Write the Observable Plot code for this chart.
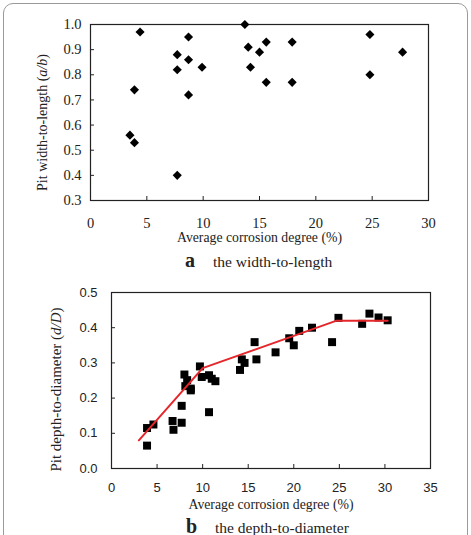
<!DOCTYPE html>
<html>
<head>
<meta charset="utf-8">
<script src="https://cdn.jsdelivr.net/npm/d3@7"></script>
<script src="https://cdn.jsdelivr.net/npm/@observablehq/plot@0.6"></script>
<style>
  html, body { margin: 0; padding: 0; background: #fff; overflow: hidden; }
  #fig { position: relative; width: 471px; height: 535px; overflow: hidden; background: #fff; }
  #border { position: absolute; left: 3px; top: 3px; width: 465px; height: 620px;
            border: 1px solid #9a9a9a; border-radius: 10px; box-sizing: border-box; }
  .panel { position: absolute; left: 0; }
  .cap { position: absolute; font-family: "Liberation Serif", serif; color: #222;
         white-space: nowrap; line-height: 1; }
  .cap.letter { font-size: 20px; font-weight: bold; }
  .cap.desc { font-size: 15.5px; }
</style>
</head>
<body>
<div id="fig">
  <div id="border"></div>
  <div class="panel" id="panelA" style="top:0px"></div>
  <span class="cap letter" style="left:185px; top:250px">a</span>
  <span class="cap desc" style="left:213px; top:254px">the width-to-length</span>
  <div class="panel" id="panelB" style="top:270px"></div>
  <span class="cap letter" style="left:186px; top:516px">b</span>
  <span class="cap desc" style="left:215px; top:520px">the depth-to-diameter</span>
</div>
<script>
// Panel a: pit width-to-length ratio vs. average corrosion degree
const corrosionA = [4.4, 3.9, 3.5, 3.9, 7.7, 7.7, 7.7, 8.7, 8.7, 8.7, 9.9,
                    13.7, 14.0, 14.2, 15.0, 15.6, 15.6, 17.9, 17.9, 24.8, 24.8, 27.7];
const widthToLength = [0.97, 0.74, 0.56, 0.53, 0.88, 0.82, 0.40, 0.95, 0.86, 0.72, 0.83,
                       1.00, 0.91, 0.83, 0.89, 0.93, 0.77, 0.93, 0.77, 0.96, 0.80, 0.89];
const xTicksA = [0, 5, 10, 15, 20, 25, 30];
const yTicksA = [0.3, 0.4, 0.5, 0.6, 0.7, 0.8, 0.9, 1.0];

// Panel b: pit depth-to-diameter ratio vs. average corrosion degree
const corrosionB = [3.9, 3.9, 4.6, 6.7, 6.8, 7.7, 7.7, 8.0, 8.3, 8.1, 8.7, 8.7,
                    9.7, 9.9, 10.7, 11.0, 11.4, 10.7, 14.1, 14.3, 14.6, 15.7, 15.9,
                    18.0, 19.5, 20.0, 20.6, 22.0, 24.2, 24.9, 27.5, 28.3, 29.3, 30.3];
const depthToDiameter = [0.115, 0.065, 0.125, 0.135, 0.11, 0.178, 0.13, 0.267, 0.251, 0.234, 0.227, 0.222,
                         0.29, 0.26, 0.265, 0.255, 0.248, 0.16, 0.28, 0.31, 0.30, 0.359, 0.31,
                         0.33, 0.37, 0.35, 0.391, 0.40, 0.359, 0.428, 0.411, 0.44, 0.429, 0.421];
// Piecewise linear trend
const trendX = [3.0, 10.0, 24.7, 30.3];
const trendY = [0.08, 0.285, 0.42, 0.42];
const xTicksB = [0, 5, 10, 15, 20, 25, 30, 35];
const yTicksB = [0.0, 0.1, 0.2, 0.3, 0.4, 0.5];

const xTitle = "Average corrosion degree (%)";
const yTitleA = ["Pit width-to-length (", "a/b", ")"];
const yTitleB = ["Pit depth-to-diameter (", "d/D", ")"];

const serif = "'Liberation Serif', 'Times New Roman', serif";
const sans = "'Liberation Sans', Arial, sans-serif";
const ink = "#222";

// Set a rotated axis title with an italic part
function styleTitle(svg, parts) {
  const full = parts.join("");
  d3.select(svg).selectAll("text").filter(function () { return this.textContent === full; })
    .each(function () {
      const t = d3.select(this);
      t.text("");
      parts.forEach((p, i) => {
        const s = t.append("tspan").text(p);
        if (i === 1) s.attr("font-style", "italic");
      });
    });
}

// ---- panel a ----
{
  const W = 471, H = 250, mt = 24, mb = 50, ml = 90, mr = 43;
  const pw = W - ml - mr, ph = H - mt - mb;
  const dataA = corrosionA.map((x, i) => ({x, y: widthToLength[i]}));
  const chart = Plot.plot({
    width: W, height: H,
    marginTop: mt, marginBottom: mb, marginLeft: ml, marginRight: mr,
    style: `font-family: ${serif}; font-size: 14px; color: ${ink}; background: transparent; overflow: visible;`,
    x: {domain: [0, 30]},
    y: {domain: [0.3, 1.0]},
    marks: [
      Plot.axisX({ticks: xTicksA, tickSize: 0, tickPadding: 17, tickFormat: d3.format("d"), label: null,
                  fontFamily: serif, fontSize: 14.5}),
      Plot.axisY({ticks: yTicksA, tickSize: 0, tickPadding: 9, tickFormat: d3.format(".1f"), label: null,
                  fontFamily: serif, fontSize: 14.5}),
      Plot.tickX(xTicksA, {x: d => d, insetTop: ph - 4, stroke: ink, strokeWidth: 1}),
      Plot.tickY(yTicksA, {y: d => d, insetRight: pw - 4, stroke: ink, strokeWidth: 1}),
      Plot.frame({stroke: ink, strokeWidth: 1.2}),
      Plot.dot(dataA, {x: "x", y: "y", symbol: "diamond2", r: 4.1, fill: "#000", stroke: "none"}),
      Plot.text([xTitle], {frameAnchor: "bottom", dy: 41, text: d => d, fontFamily: serif, fontSize: 13.75, fill: ink}),
      Plot.text([yTitleA.join("")], {frameAnchor: "left", textAnchor: "middle", rotate: -90, dx: -48, dy: 10,
                                     text: d => d, fontFamily: serif, fontSize: 14, fill: ink})
    ]
  });
  styleTitle(chart, yTitleA);
  document.getElementById("panelA").append(chart);
}

// ---- panel b ----
{
  const W = 471, H = 250, mt = 22, mb = 52, ml = 111, mr = 41;
  const pw = W - ml - mr, ph = H - mt - mb;
  const dataB = corrosionB.map((x, i) => ({x, y: depthToDiameter[i]}));
  const trend = trendX.map((x, i) => ({x, y: trendY[i]}));
  const chart = Plot.plot({
    width: W, height: H,
    marginTop: mt, marginBottom: mb, marginLeft: ml, marginRight: mr,
    style: `font-family: ${sans}; font-size: 13px; color: ${ink}; background: transparent; overflow: visible;`,
    x: {domain: [0, 35]},
    y: {domain: [0, 0.5]},
    marks: [
      Plot.axisX({ticks: xTicksB, tickSize: 0, tickPadding: 14, tickFormat: d3.format("d"), label: null,
                  fontFamily: sans, fontSize: 13}),
      Plot.axisY({ticks: yTicksB, tickSize: 0, tickPadding: 14, tickFormat: d3.format(".1f"), label: null,
                  fontFamily: sans, fontSize: 13}),
      Plot.tickX(xTicksB, {x: d => d, insetTop: ph - 4, stroke: ink, strokeWidth: 1}),
      Plot.tickY(yTicksB, {y: d => d, insetRight: pw - 4, stroke: ink, strokeWidth: 1}),
      Plot.frame({stroke: ink, strokeWidth: 1.2}),
      Plot.dot(dataB, {x: "x", y: "y", symbol: "square", r: 4.5, fill: "#000", stroke: "none"}),
      Plot.line(trend, {x: "x", y: "y", stroke: "#e5262b", strokeWidth: 2}),
      Plot.text([xTitle], {frameAnchor: "bottom", dy: 40, text: d => d, fontFamily: serif, fontSize: 13.75, fill: ink}),
      Plot.text([yTitleB.join("")], {frameAnchor: "left", textAnchor: "middle", rotate: -90, dx: -55, dy: 9,
                                     text: d => d, fontFamily: serif, fontSize: 15, fill: ink})
    ]
  });
  styleTitle(chart, yTitleB);
  document.getElementById("panelB").append(chart);
}
</script>
</body>
</html>
